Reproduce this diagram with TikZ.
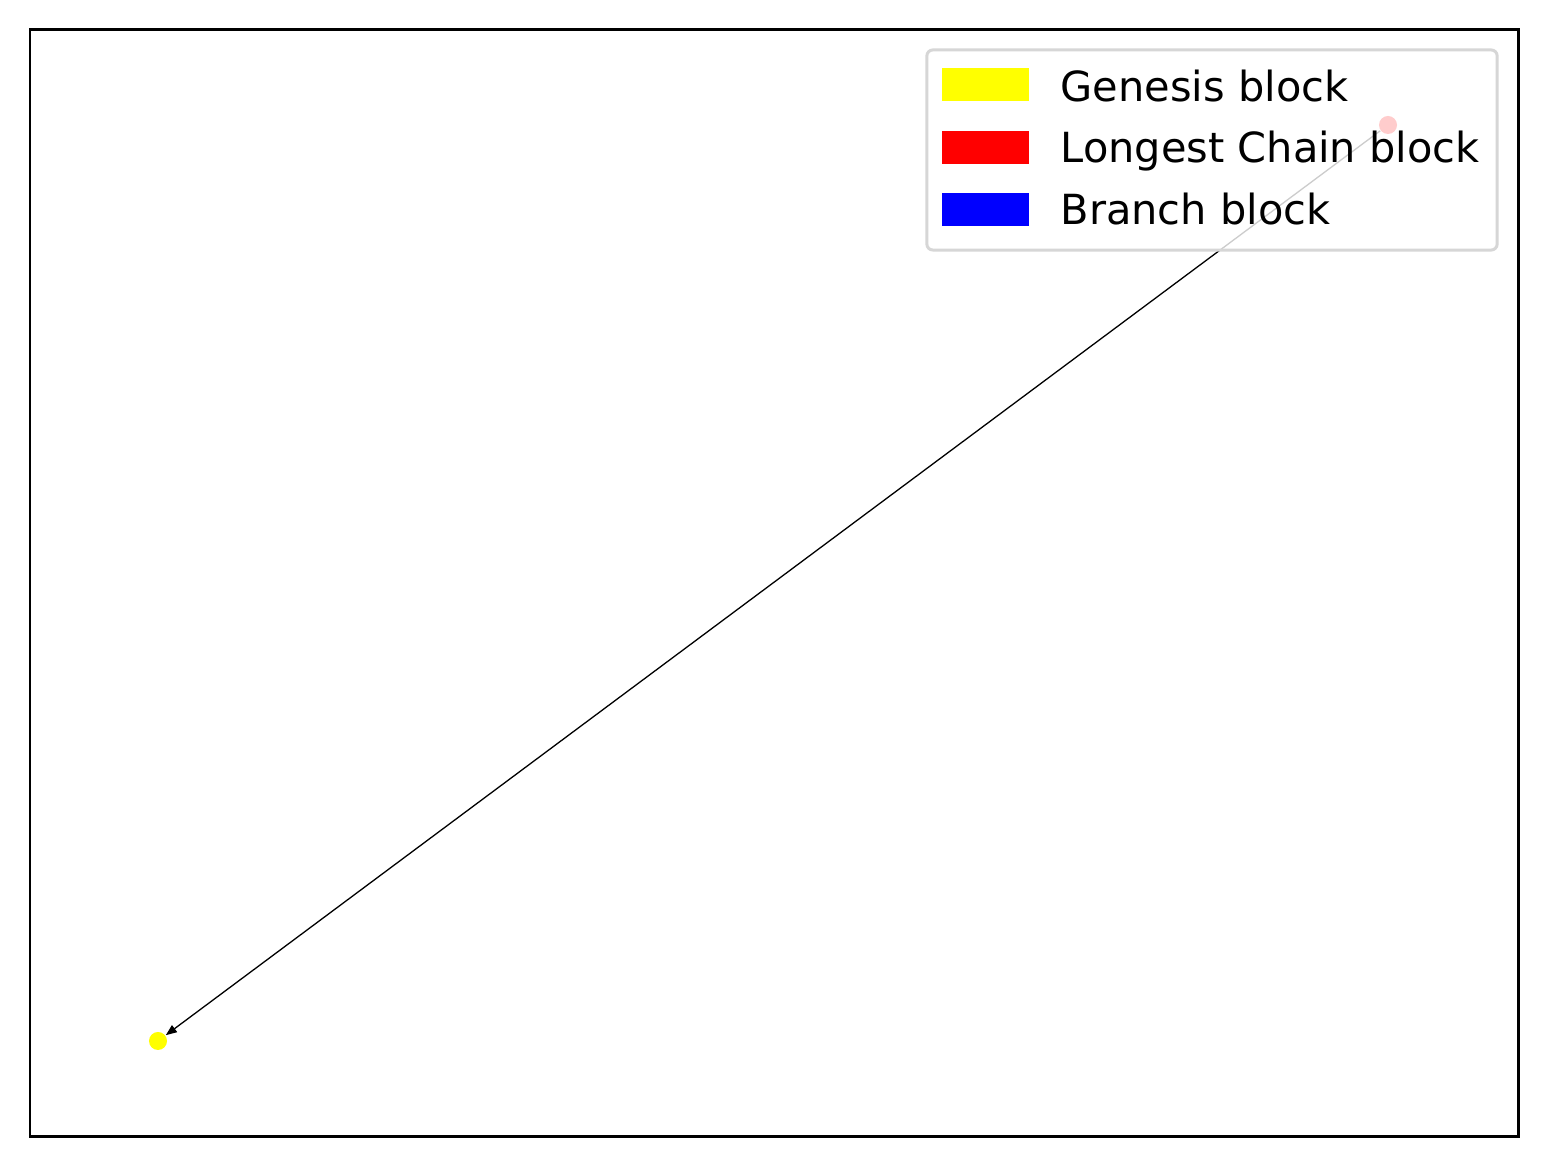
\documentclass[tikz,border=0pt]{standalone}
\usepackage{fontspec}
\setmainfont{DejaVu Sans}
\usetikzlibrary{arrows.meta}
\definecolor{legendgray}{RGB}{214,214,214}
\definecolor{genyellow}{RGB}{255,255,0}
\definecolor{chainred}{RGB}{255,0,0}
\definecolor{branchblue}{RGB}{0,0,255}

\begin{document}
\begin{tikzpicture}[x=0.01cm, y=-0.01cm,
    block/.style={circle, inner sep=0pt, minimum size=0.18cm},
    patch/.style={rectangle, inner sep=0pt, minimum width=0.87cm, minimum height=0.33cm},
    entry/.style={anchor=base west, inner sep=0pt, font=\fontsize{11.8}{14}\selectfont},
    arrow/.style={-{Triangle[length=1.1mm, width=0.85mm]}, line width=0.37pt}
]
\useasboundingbox (0,0) rectangle (1548,1168);
% Axes frame
\draw[line width=0.85pt] (30,30) rectangle (1518,1137);

% Blocks
\node[block, fill=genyellow] (genesis) at (158,1041) {};
\node[block, fill=chainred] (chain1) at (1388,125) {};
\draw[arrow] (chain1) -- (genesis);

% Legend
\node[draw=legendgray, line width=0.85pt, fill=white, fill opacity=0.8,
      rounded corners=0.06cm, minimum width=5.7cm, minimum height=2cm,
      inner sep=0pt] (legend) at (1212,150) {};
\node[patch, fill=genyellow] (pg) at (985.5,85) {};
\node[patch, fill=chainred] (pl) at (985.5,147.5) {};
\node[patch, fill=branchblue] (pb) at (985.5,210) {};
\node[entry] (tg) at (1060,102) {Genesis block};
\node[entry] (tl) at (1060,163) {Longest Chain block};
\node[entry] (tb) at (1060,225) {Branch block};
\end{tikzpicture}
\end{document}
